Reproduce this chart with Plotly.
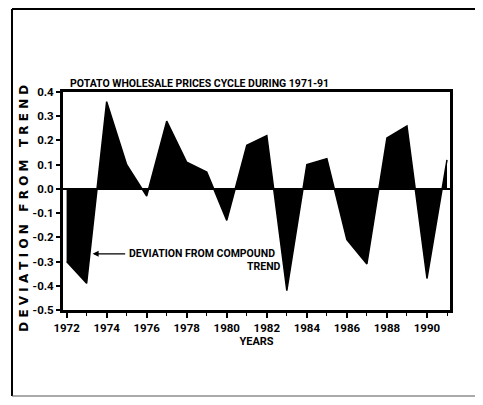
import plotly.graph_objects as go

years = list(range(1972, 1992))
deviation = [-0.30, -0.39, 0.36, 0.10, -0.03, 0.28, 0.11, 0.07, -0.13, 0.18,
             0.22, -0.42, 0.10, 0.125, -0.21, -0.31, 0.21, 0.26, -0.37, 0.12]
x_tick_labels = [1972, 1974, 1976, 1978, 1980, 1982, 1984, 1986, 1988, 1990]
y_ticks = [0.4, 0.3, 0.2, 0.1, 0.0, -0.1, -0.2, -0.3, -0.4, -0.5]
y_tick_text = ["0.4", "0.3", "0.2", "0.1", "0.0", "-0.1", "-0.2", "-0.3", "-0.4", "-0.5"]

FONT = "Roboto, Liberation Sans, sans-serif"

fig = go.Figure()
fig.add_trace(go.Scatter(
    x=years, y=deviation, mode="lines", fill="tozeroy",
    fillcolor="black", line=dict(color="black", width=1.5),
    hoverinfo="x+y", showlegend=False,
))

frame_line = dict(color="black", width=2)

# page body has an 8px margin on every side; keep the figure inside the window
fig.update_layout(
    width=467, height=389,
    margin=dict(l=55, r=25, t=84, b=87),
    paper_bgcolor="white", plot_bgcolor="white",
    font=dict(family=FONT, color="black", size=11, weight="bold"),
    xaxis=dict(
        range=[1971.82, 1991.15], tickmode="array", tickvals=x_tick_labels,
        ticktext=[str(v) for v in x_tick_labels],
        ticks="outside", ticklen=5, tickwidth=1.5, tickcolor="black",
        minor=dict(dtick=1, tick0=1972, ticks="outside", ticklen=3, tickcolor="black", tickwidth=1),
        showgrid=False, zeroline=False,
        showline=True, linecolor="black", linewidth=3, mirror=True,
        tickfont=dict(family=FONT, size=11.5, weight="bold"),
        title=dict(text="YEARS", font=dict(family=FONT, size=11, weight="bold"), standoff=4),
    ),
    yaxis=dict(
        range=[-0.5, 0.4], tickmode="array", tickvals=y_ticks, ticktext=y_tick_text,
        ticks="outside", ticklen=4, tickwidth=1.5, tickcolor="black",
        showgrid=False, zeroline=True, zerolinecolor="black", zerolinewidth=2,
        showline=True, linecolor="black", linewidth=3, mirror=True,
        tickfont=dict(family=FONT, size=11.5, weight="bold"),
    ),
    annotations=[
        dict(text="POTATO WHOLESALE PRICES CYCLE DURING 1971-91", xref="paper", yref="paper",
             x=0.013, y=1.0, xanchor="left", yanchor="bottom", yshift=0, showarrow=False,
             font=dict(family=FONT, size=10.5, weight="bold")),
        dict(text="D E V I A T I O N   F R O M   T R E N D", xref="paper", yref="paper",
             x=-0.10, y=0.466, xanchor="center", yanchor="middle", textangle=-90,
             showarrow=False, font=dict(family="DejaVu Sans, sans-serif", size=12, weight="bold")),
        dict(text="DEVIATION FROM COMPOUND", x=1975.0, y=-0.268, xanchor="left", yanchor="middle",
             showarrow=False, font=dict(family=FONT, size=10.5, weight="bold")),
        dict(text="TREND", x=1982.8, y=-0.322, xanchor="right", yanchor="middle",
             showarrow=False, font=dict(family=FONT, size=10.5, weight="bold")),
        dict(text="", x=1973.3, y=-0.268, ax=1975.0, ay=-0.268, axref="x", ayref="y",
             showarrow=True, arrowhead=2, arrowsize=1, arrowwidth=1.2, arrowcolor="black"),
    ],
    shapes=[
        dict(type="line", xref="paper", yref="paper", x0=-0.1318, x1=-0.1318, y0=-0.3945, y1=1.381,
             line=frame_line, layer="below"),
        dict(type="line", xref="paper", yref="paper", x0=-0.1318, x1=1.25, y0=1.381, y1=1.381,
             line=frame_line, layer="below"),
        dict(type="line", xref="paper", yref="paper", x0=-0.1318, x1=1.25, y0=-0.3945, y1=-0.3945,
             line=dict(color="#555555", width=1), layer="below"),
    ],
)

fig.write_html("out.html")
